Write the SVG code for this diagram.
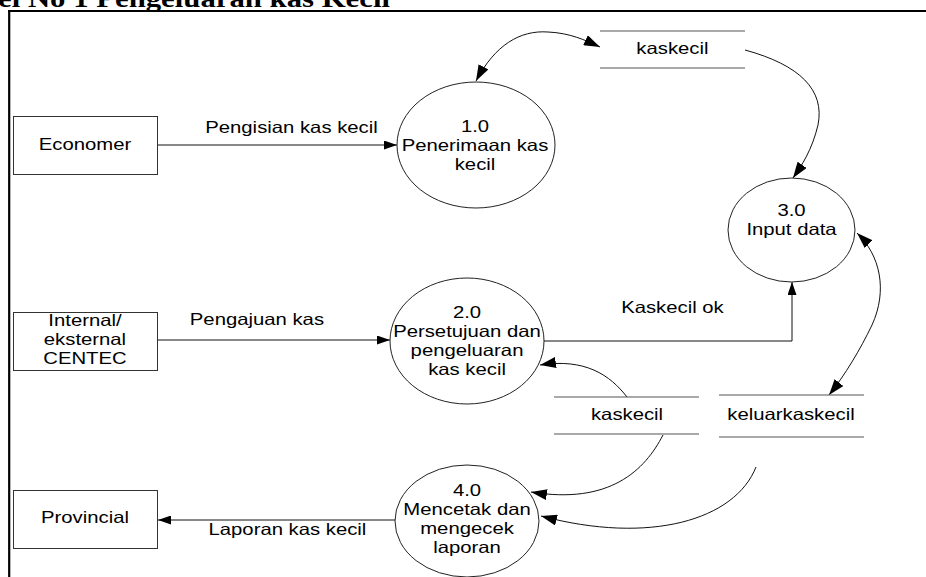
<svg xmlns="http://www.w3.org/2000/svg" width="926" height="577" viewBox="0 0 926 577">
<style>
.t{font-family:"Liberation Sans",Arial,sans-serif;font-size:16.5px;fill:#000;text-anchor:middle}
.title{font-family:"Liberation Serif","Times New Roman",serif;font-size:25px;font-weight:bold;fill:#000}
.ent{fill:#fff;stroke:#333;stroke-width:1}
.proc{fill:#fff;stroke:#222;stroke-width:1}
.store{stroke:#555;stroke-width:1.2}
.flow{fill:none;stroke:#111;stroke-width:1}
.frame{stroke:#000;stroke-width:2.2}
</style>
<defs>
<marker id="a" markerUnits="userSpaceOnUse" markerWidth="13" markerHeight="9" refX="13" refY="4.5" orient="auto-start-reverse"><path d="M0,0 L13,4.5 L0,9 z" fill="#000"/></marker>
<marker id="b" markerUnits="userSpaceOnUse" markerWidth="16" markerHeight="11" refX="16" refY="5.5" orient="auto-start-reverse"><path d="M0,0 L16,5.5 L0,11 z" fill="#000"/></marker>
</defs>
<rect width="926" height="577" fill="#fff"/>
<g id="frame">
<line class="frame" x1="8" y1="11" x2="926" y2="11"/>
<line class="frame" x1="9.2" y1="10" x2="9.2" y2="577"/>
</g>
<g id="connectors">
<line class="flow" x1="157" y1="145" x2="397" y2="145" marker-end="url(#a)"/>
<line class="flow" x1="157" y1="340" x2="390" y2="340" marker-end="url(#a)"/>
<line class="flow" x1="395" y1="520" x2="158" y2="520" marker-end="url(#a)" stroke="#444"/>
<polyline class="flow" points="544,341 792,341 792,282" marker-end="url(#a)" stroke="#333"/>
<path class="flow" d="M476,81 C495,45 520,30 548,32 C570,33 585,40 600,47" marker-start="url(#b)" marker-end="url(#b)"/>
<path class="flow" d="M745,50 C800,65 825,90 818,125 C812,150 802,165 793,178" marker-end="url(#b)"/>
<path class="flow" d="M857,233 C880,255 888,290 872,325 C860,350 845,375 829,395" marker-start="url(#b)" marker-end="url(#b)"/>
<path class="flow" d="M627,397 C610,375 585,358 540,365" marker-end="url(#b)"/>
<path class="flow" d="M663,435 C645,470 610,505 531,492" marker-end="url(#b)"/>
<path class="flow" d="M756,467 C735,520 650,545 541,516" marker-end="url(#b)"/>
</g>
<g id="economer"><rect class="ent" x="13.5" y="116.5" width="144" height="58"/></g>
<g id="internal"><rect class="ent" x="13.5" y="312.5" width="144" height="58"/></g>
<g id="provincial"><rect class="ent" x="13.5" y="490.5" width="144" height="58"/></g>
<g id="p1"><ellipse class="proc" cx="476" cy="145" rx="79" ry="63"/></g>
<g id="p2"><ellipse class="proc" cx="467" cy="341" rx="77" ry="63"/></g>
<g id="p3"><ellipse class="proc" cx="791.5" cy="230" rx="63.5" ry="52"/></g>
<g id="p4"><ellipse class="proc" cx="467" cy="521" rx="72" ry="56"/></g>
<g id="store1"><line class="store" x1="600" y1="31" x2="745" y2="31"/><line class="store" x1="600" y1="68" x2="745" y2="68"/></g>
<g id="store2"><line class="store" x1="554" y1="397" x2="699" y2="397"/><line class="store" x1="554" y1="434" x2="699" y2="434"/></g>
<g id="store3"><line class="store" x1="719" y1="395" x2="864" y2="395"/><line class="store" x1="719" y1="437" x2="864" y2="437"/></g>
<g id="texts" transform="scale(1.23,1)">
<text class="title" x="-1.6" y="6.5">el No 1 Pengeluaran kas Kecil</text>
<text class="t" x="69.1" y="150">Economer</text>
<text class="t" x="69.1" y="326">Internal/</text>
<text class="t" x="69.1" y="345">eksternal</text>
<text class="t" x="69.1" y="364">CENTEC</text>
<text class="t" x="69.1" y="523">Provincial</text>
<text class="t" x="237" y="133">Pengisian kas kecil</text>
<text class="t" x="208.9" y="325">Pengajuan kas</text>
<text class="t" x="233.7" y="535">Laporan kas kecil</text>
<text class="t" x="546.7" y="313">Kaskecil ok</text>
<text class="t" x="386.2" y="132">1.0</text>
<text class="t" x="386.2" y="151">Penerimaan kas</text>
<text class="t" x="386.2" y="170">kecil</text>
<text class="t" x="379.7" y="318">2.0</text>
<text class="t" x="379.7" y="337">Persetujuan dan</text>
<text class="t" x="379.7" y="356">pengeluaran</text>
<text class="t" x="379.7" y="375">kas kecil</text>
<text class="t" x="643.5" y="216">3.0</text>
<text class="t" x="643.5" y="235">Input data</text>
<text class="t" x="379.7" y="496">4.0</text>
<text class="t" x="379.7" y="515">Mencetak dan</text>
<text class="t" x="379.7" y="534">mengecek</text>
<text class="t" x="379.7" y="553">laporan</text>
<text class="t" x="546.7" y="54">kaskecil</text>
<text class="t" x="509.8" y="420">kaskecil</text>
<text class="t" x="643.1" y="420">keluarkaskecil</text>
</g>
</svg>
